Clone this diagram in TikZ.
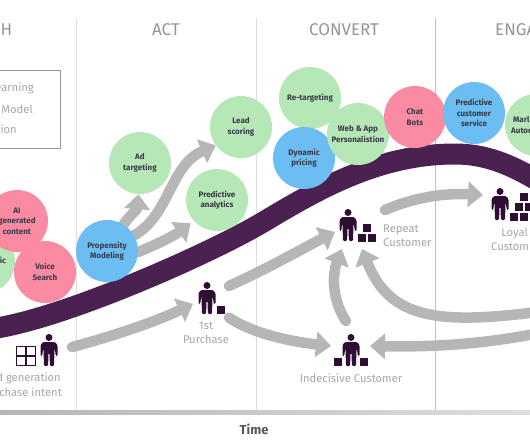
\documentclass[tikz,border=0pt]{standalone}
\usepackage{fontspec}
\setmainfont{Fira Sans}
\usetikzlibrary{arrows.meta, backgrounds}
\definecolor{bandpurple}{HTML}{4A2150}
\definecolor{icondark}{HTML}{2E0F33}
\definecolor{flowgrey}{HTML}{B6B6B6}
\definecolor{labelgrey}{HTML}{A6A6A6}
\definecolor{headgrey}{HTML}{969696}
\definecolor{inkgrey}{HTML}{3A3A48}
\definecolor{rulegrey}{HTML}{DEDEDE}
\definecolor{leafgreen}{HTML}{B6E7B6}
\definecolor{rosepink}{HTML}{FB8BA3}
\definecolor{skyblue}{HTML}{6CBDF2}

\tikzset{
    shopper/.pic={
        \fill[icondark] (0,-12.5) circle (3.5);
        \fill[icondark, rounded corners=1.2] (-6,-8) -- (6,-8) -- (8.5,-5) -- (8.5,6) -- (6.8,6) -- (5.6,-3)
            -- (5,16) -- (0.9,16) -- (0.5,3) -- (-0.5,3) -- (-0.9,16) -- (-5,16) -- (-5.6,-3) -- (-6.8,6)
            -- (-8.5,6) -- (-8.5,-5) -- cycle;
    },
    crate/.pic={
        \fill[icondark] (-4,-4) rectangle (4,4);
    }
}

\begin{document}
\begin{tikzpicture}[
    x=1pt, y=-1pt,
    bubble/.style={circle, minimum size=62pt, inner sep=0pt, align=center, text=inkgrey, font=\fontsize{8}{10.4}\selectfont\bfseries},
    greenbubble/.style={bubble, fill=leafgreen},
    pinkbubble/.style={bubble, fill=rosepink},
    bluebubble/.style={bubble, fill=skyblue},
    heading/.style={font=\fontsize{17}{20}\selectfont, text=headgrey},
    caption/.style={font=\fontsize{11.2}{14.2}\selectfont, text=labelgrey, align=center, inner sep=0pt},
    spot/.style={inner sep=0pt, outer sep=0pt},
    flow/.style={line width=10.5pt, draw=flowgrey, line cap=round, -{Triangle[length=15pt,width=25pt]}},
    divider/.style={line width=1pt, draw=rulegrey}
]
\useasboundingbox (0,0) rectangle (530,442);
\clip (0,0) rectangle (530,442);

% Stage headings
\node[heading, anchor=west, inner sep=0pt] (reach) at (0.5,30) {H};
\node[heading] (act) at (166,30) {ACT};
\node[heading] (convert) at (344,30) {CONVERT};
\node[heading, anchor=west, inner sep=0pt] (engage) at (495,30) {ENGA};

% Legend
\draw[draw=headgrey, line width=0.8pt] (-5,70) rectangle (60,148);
\node[caption, anchor=east] (legA) at (34,88) {earning};
\node[caption, anchor=east] (legB) at (33,109) {Model};
\node[caption, anchor=east] (legC) at (17,129) {tion};

% Bubbles
\node[greenbubble] (adtarget) at (140,163) {Ad\\targeting};
\node[greenbubble] (leadscore) at (241,127) {Lead\\scoring};
\node[greenbubble] (predict) at (217,200) {Predictive\\analytics};
\node[bluebubble] (propensity) at (107,251) {Propensity\\Modeling};
\node[greenbubble] (organic) at (-16,262) {};
\node[text=inkgrey, font=\fontsize{8}{10.4}\selectfont\bfseries, inner sep=0pt] (organiclabel) at (3,260) {ic};
\node[pinkbubble] (aicontent) at (17,221) {AI\\generated\\content};
\node[pinkbubble] (voice) at (45,272) {Voice\\Search};
\node[greenbubble] (retarget) at (310,98) {Re-targeting};
\node[bluebubble] (dynamic) at (304,158) {Dynamic\\pricing};
\node[greenbubble] (webapp) at (358,134) {Web \& App\\Personalistion};
\node[pinkbubble] (chatbots) at (415,117) {Chat\\Bots};
\node[greenbubble] (market) at (536,125) {};
\node[text=inkgrey, font=\fontsize{8}{10.4}\selectfont\bfseries, align=center, anchor=west, inner sep=0pt] (marketlabel) at (511,125) {Marl\\Autor};
\node[bluebubble] (service) at (474,113) {Predictive\\customer\\service};

% Customer spots
\node[spot, minimum width=44pt, minimum height=20pt] (lead) at (50,347) {};
\node[spot, minimum width=36pt, minimum height=38pt] (first) at (211,299) {};
\node[spot, minimum width=27pt, minimum height=26pt] (repeat) at (348.5,236) {};
\node[spot, minimum width=39pt, minimum height=25pt] (indecisive) at (350.5,333.5) {};
\node[spot, minimum width=48pt, minimum height=20pt] (loyal) at (507,195) {};
\coordinate (loopstart) at (385,210);
\coordinate (backA) at (545,311);
\coordinate (backB) at (545,332);

% Icons
\pic at (49,350) {shopper};
\draw[icondark, line width=1.4pt] (16.7,346.7) rectangle (35.3,365.3) (26,346.7) -- (26,365.3) (16.7,356) -- (35.3,356);
\pic at (207,298) {shopper};
\pic at (221,309.5) {crate};
\pic at (348,225) {shopper};
\foreach \cx/\cy in {367/228, 362.3/237.5, 371.7/237.5}
    \pic at (\cx,\cy) {crate};
\pic at (351,350) {shopper};
\foreach \cx in {338,364}
    \pic at (\cx,362) {crate};
\pic at (500,204) {shopper};
\foreach \cx/\cy in {524/197, 519/207, 529/207, 514/217, 524/217, 534/217}
    \pic at (\cx,\cy) {crate};

% Captions
\node[caption, anchor=east] (leadA) at (61,378) {d generation};
\node[caption, anchor=east] (leadB) at (62,392) {rchase intent};
\node[caption] (firstlabel) at (206,333) {1st\\Purchase};
\node[caption, align=left, anchor=west] (repeatlabel) at (383,235.5) {Repeat\\Customer};
\node[caption] (indecisivelabel) at (351,378) {Indecisive Customer};
\node[caption, anchor=east] (loyalA) at (528,233) {Loyal};
\node[caption, anchor=west] (loyalB) at (491,247) {Custom};
\node[font=\fontsize{13}{15}\selectfont\bfseries, text=inkgrey!85!white] (time) at (254,429) {Time};

\begin{scope}[on background layer]
% Stage dividers and time axis
\draw[divider] (76,18) -- (76,412);
\draw[divider] (256,18) -- (256,412);
\draw[divider, draw=rulegrey!85!black] (435,18) -- (435,412);
\shade[left color=flowgrey, right color=rulegrey] (0,410) rectangle (530,414);

% Journey band
\draw[bandpurple, line width=21pt] (-10,329) .. controls (60,320) and (210,254) .. (265,221)
    .. controls (320,188) and (380,154) .. (455,154) .. controls (485,154) and (510,164) .. (540,182);

% Customer flows
\draw[flow] (lead.east) .. controls (110,337) and (155,322) .. (first.195);
\draw[flow] (first.36) .. controls (265,270) and (300,250) .. (repeat.163.5);
\draw[flow] (first.-46) .. controls (255,335) and (295,342) .. (indecisive.south west);
\draw[flow] (indecisive.110) .. controls (332,300) and (332,275) .. (repeat.243);
\draw[flow] (backA) .. controls (440,325) and (390,320) .. (repeat.south east);
\draw[flow] (backB) .. controls (480,345) and (430,347) .. (indecisive.south east);
\draw[flow] (loopstart) .. controls (415,197) and (445,193) .. (loyal.west);

% Flows out of propensity
\draw[flow] (propensity.58) .. controls (130,215) and (137,210) .. (adtarget.-93);
\draw[flow] (propensity.30) .. controls (170,215) and (170,165) .. (leadscore.216.5);
\draw[flow, shorten >=4pt] (propensity.-2) .. controls (160,243) and (175,235) .. (predict.222);
\end{scope}

\end{tikzpicture}
\end{document}
